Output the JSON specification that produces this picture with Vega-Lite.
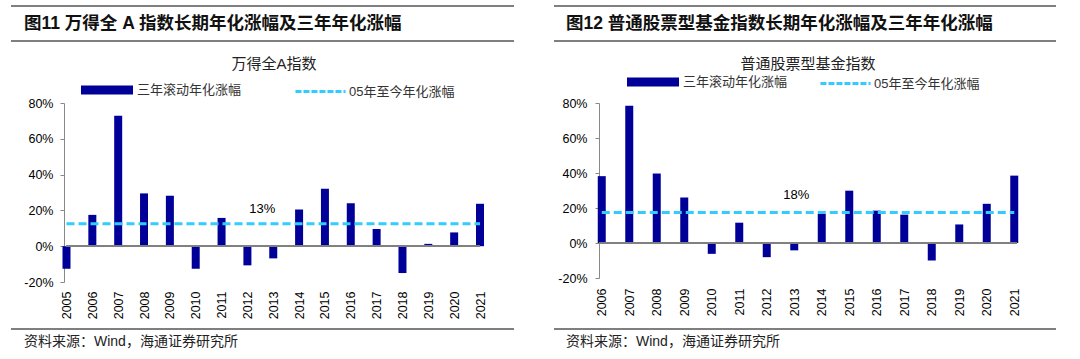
{
  "$schema": "https://vega.github.io/schema/vega-lite/v6.json",
  "background": "white",
  "padding": {"left": 10, "top": 5, "right": 0, "bottom": 0},
  "spacing": 9,
  "config": {
    "view": {"stroke": null},
    "font": "Liberation Sans, Noto Sans CJK SC, sans-serif",
    "title": {"font": "Liberation Sans, Noto Sans CJK SC, sans-serif"},
    "legend": {"labelFont": "Liberation Sans, Noto Sans CJK SC, sans-serif"},
    "axis": {"labelOverlap": false}
  },
  "vconcat": [
    {
      "spacing": 38,
      "hconcat": [
        {
          "width": 503,
          "height": 35,
          "data": {"values": [{"t": "图11 万得全 A 指数长期年化涨幅及三年年化涨幅"}]},
          "layer": [
            {"mark": {"type": "rule", "stroke": "#555555", "strokeWidth": 1.5}, "encoding": {"y": {"datum": 1, "scale": {"domain": [0, 1]}, "axis": null}}},
            {"mark": {"type": "rule", "stroke": "#555555", "strokeWidth": 1.5}, "encoding": {"y": {"datum": 0, "scale": {"domain": [0, 1]}, "axis": null}}},
            {"mark": {"type": "text", "align": "left", "baseline": "middle", "fontSize": 17.5, "fontWeight": "bold", "dx": 13, "color": "#111111"},
             "encoding": {"x": {"datum": 0, "scale": {"domain": [0, 1]}, "axis": {"title": " ", "labels": false, "ticks": false, "domain": false, "grid": false, "titleFontSize": 4, "titlePadding": 2}}, "y": {"datum": 0.5, "scale": {"domain": [0, 1]}, "axis": null}, "text": {"field": "t"}}}
          ]
        },
        {
          "width": 502,
          "height": 35,
          "data": {"values": [{"t": "图12 普通股票型基金指数长期年化涨幅及三年年化涨幅"}]},
          "layer": [
            {"mark": {"type": "rule", "stroke": "#555555", "strokeWidth": 1.5}, "encoding": {"y": {"datum": 1, "scale": {"domain": [0, 1]}, "axis": null}}},
            {"mark": {"type": "rule", "stroke": "#555555", "strokeWidth": 1.5}, "encoding": {"y": {"datum": 0, "scale": {"domain": [0, 1]}, "axis": null}}},
            {"mark": {"type": "text", "align": "left", "baseline": "middle", "fontSize": 17.5, "fontWeight": "bold", "dx": 12, "color": "#111111"},
             "encoding": {"x": {"datum": 0, "scale": {"domain": [0, 1]}, "axis": null}, "y": {"datum": 0.5, "scale": {"domain": [0, 1]}, "axis": null}, "text": {"field": "t"}}}
          ]
        }
      ]
    },
    {
      "spacing": 70,
      "hconcat": [
        {
          "width": 472,
          "height": 179,
          "title": {"text": "万得全A指数", "fontSize": 15, "fontWeight": "normal", "anchor": "middle", "frame": "group", "dx": 27, "color": "#222222", "offset": 12},
          "data": {"values": [
            {"year": "2005", "v": -12.6, "avg": 12.6},
            {"year": "2006", "v": 17.5, "avg": 12.6},
            {"year": "2007", "v": 72.9, "avg": 12.6},
            {"year": "2008", "v": 29.5, "avg": 12.6},
            {"year": "2009", "v": 28.2, "avg": 12.6},
            {"year": "2010", "v": -12.6, "avg": 12.6},
            {"year": "2011", "v": 15.8, "avg": 12.6},
            {"year": "2012", "v": -10.7, "avg": 12.6},
            {"year": "2013", "v": -6.8, "avg": 12.6},
            {"year": "2014", "v": 20.5, "avg": 12.6},
            {"year": "2015", "v": 32.1, "avg": 12.6},
            {"year": "2016", "v": 24.0, "avg": 12.6},
            {"year": "2017", "v": 9.6, "avg": 12.6},
            {"year": "2018", "v": -15.0, "avg": 12.6},
            {"year": "2019", "v": 1.3, "avg": 12.6},
            {"year": "2020", "v": 7.7, "avg": 12.6},
            {"year": "2021", "v": 23.7, "avg": 12.6}
          ]},
          "resolve": {"scale": {"color": "independent"}},
          "layer": [
            {
              "mark": {"type": "bar", "size": 8},
              "encoding": {
                "x": {"field": "year", "type": "ordinal", "scale": {"type": "point", "padding": 0, "range": [55.5, 469]},
                      "axis": {"title": null, "labelAngle": -90, "domain": false, "ticks": false, "labelPadding": 9, "labelFontSize": 12.5, "labelColor": "#000000", "labelOverlap": false}},
                "y": {"field": "v", "type": "quantitative", "scale": {"domain": [-20, 80], "nice": false},
                      "axis": {"values": [-20, 0, 20, 40, 60, 80], "tickCount": 12, "offset": -53, "labelExpr": "datum.value + '%'", "labelOverlap": false, "grid": false, "domainColor": "#888888", "tickColor": "#888888", "tickSize": 4, "labelPadding": 7, "labelFontSize": 12.5, "labelColor": "#000000", "title": null}},
                "color": {"datum": "三年滚动年化涨幅", "scale": {"range": ["#000099"]},
                          "legend": {"orient": "none", "legendX": 89.5, "legendY": -19.5, "title": null, "padding": 0, "symbolType": "M-4,-0.7H4V0.7H-4Z", "symbolSize": 169, "symbolStrokeWidth": 0, "symbolOpacity": 1, "labelFontSize": 13, "labelColor": "#333333", "labelOffset": 23.5}}
              }
            },
            {"mark": {"type": "rule", "color": "#808080", "strokeWidth": 1},
             "encoding": {"x": {"datum": "2005"}, "x2": {"datum": "2021"}, "y": {"datum": 0}}},
            {
              "mark": {"type": "line", "strokeWidth": 3, "strokeDash": [8, 4]},
              "encoding": {
                "x": {"field": "year", "type": "ordinal"},
                "y": {"field": "avg", "type": "quantitative"},
                "color": {"datum": "05年至今年化涨幅", "scale": {"range": ["#33CCFF"]},
                          "legend": {"orient": "none", "legendX": 301.5, "legendY": -19.5, "title": null, "padding": 0, "symbolType": "M-3.85,0H3.85", "symbolSize": 169, "symbolStrokeWidth": 3, "symbolDash": [6, 2], "labelFontSize": 13, "labelColor": "#333333", "labelOffset": 20.5}}
              }
            },
            {
              "data": {"values": [{"year": "2013", "avg": 12.6, "label": "13%"}]},
              "mark": {"type": "text", "fontSize": 13, "dy": -15, "dx": -11, "color": "#000000"},
              "encoding": {
                "x": {"field": "year", "type": "ordinal"},
                "y": {"field": "avg", "type": "quantitative"},
                "text": {"field": "label"}
              }
            }
          ]
        },
        {
          "width": 418,
          "height": 175,
          "title": {"text": "普通股票型基金指数", "fontSize": 15, "fontWeight": "normal", "anchor": "middle", "color": "#222222", "offset": 4},
          "data": {"values": [
            {"year": "2006", "v": 38.2, "avg": 17.5},
            {"year": "2007", "v": 78.4, "avg": 17.5},
            {"year": "2008", "v": 39.7, "avg": 17.5},
            {"year": "2009", "v": 26.0, "avg": 17.5},
            {"year": "2010", "v": -6.2, "avg": 17.5},
            {"year": "2011", "v": 11.6, "avg": 17.5},
            {"year": "2012", "v": -8.1, "avg": 17.5},
            {"year": "2013", "v": -4.2, "avg": 17.5},
            {"year": "2014", "v": 16.6, "avg": 17.5},
            {"year": "2015", "v": 29.9, "avg": 17.5},
            {"year": "2016", "v": 18.5, "avg": 17.5},
            {"year": "2017", "v": 16.2, "avg": 17.5},
            {"year": "2018", "v": -10.0, "avg": 17.5},
            {"year": "2019", "v": 10.6, "avg": 17.5},
            {"year": "2020", "v": 22.4, "avg": 17.5},
            {"year": "2021", "v": 38.5, "avg": 17.5}
          ]},
          "resolve": {"scale": {"color": "independent"}},
          "layer": [
            {
              "mark": {"type": "bar", "size": 8},
              "encoding": {
                "x": {"field": "year", "type": "ordinal", "scale": {"type": "point", "padding": 0.1},
                      "axis": {"title": null, "labelAngle": -90, "domain": false, "ticks": false, "labelPadding": 10, "labelFontSize": 12.5, "labelColor": "#000000", "labelOverlap": false}},
                "y": {"field": "v", "type": "quantitative", "scale": {"domain": [-20, 80], "nice": false},
                      "axis": {"values": [-20, 0, 20, 40, 60, 80], "tickCount": 12, "labelExpr": "datum.value + '%'", "labelOverlap": false, "grid": false, "domainColor": "#888888", "tickColor": "#888888", "tickSize": 4, "labelPadding": 8, "labelFontSize": 12.5, "labelColor": "#000000", "title": null}},
                "color": {"datum": "三年滚动年化涨幅", "scale": {"range": ["#000099"]},
                          "legend": {"orient": "none", "legendX": 47.5, "legendY": -27.5, "title": null, "padding": 0, "symbolType": "M-4,-0.7H4V0.7H-4Z", "symbolSize": 169, "symbolStrokeWidth": 0, "symbolOpacity": 1, "labelFontSize": 13, "labelColor": "#333333", "labelOffset": 23.5}}
              }
            },
            {"mark": {"type": "rule", "color": "#808080", "strokeWidth": 1}, "encoding": {"y": {"datum": 0}}},
            {
              "mark": {"type": "line", "strokeWidth": 3, "strokeDash": [8, 4]},
              "encoding": {
                "x": {"field": "year", "type": "ordinal"},
                "y": {"field": "avg", "type": "quantitative"},
                "color": {"datum": "05年至今年化涨幅", "scale": {"range": ["#33CCFF"]},
                          "legend": {"orient": "none", "legendX": 238.5, "legendY": -27.5, "title": null, "padding": 0, "symbolType": "M-3.85,0H3.85", "symbolSize": 169, "symbolStrokeWidth": 3, "symbolDash": [6, 2], "labelFontSize": 13, "labelColor": "#333333", "labelOffset": 20.5}}
              }
            },
            {
              "data": {"values": [{"year": "2013", "avg": 17.5, "label": "18%"}]},
              "mark": {"type": "text", "fontSize": 13, "dy": -17, "dx": 2, "color": "#000000"},
              "encoding": {
                "x": {"field": "year", "type": "ordinal"},
                "y": {"field": "avg", "type": "quantitative"},
                "text": {"field": "label"}
              }
            }
          ]
        }
      ]
    },
    {
      "spacing": 38,
      "hconcat": [
        {
          "width": 503,
          "height": 26,
          "data": {"values": [{"t": "资料来源：Wind，海通证券研究所"}]},
          "layer": [
            {"mark": {"type": "rule", "stroke": "#555555", "strokeWidth": 1.5}, "encoding": {"y": {"datum": 1, "scale": {"domain": [0, 1]}, "axis": null}}},
            {"mark": {"type": "text", "align": "left", "baseline": "middle", "fontSize": 14, "dx": 13, "color": "#222222"},
             "encoding": {"x": {"datum": 0, "scale": {"domain": [0, 1]}, "axis": null}, "y": {"datum": 0.5, "scale": {"domain": [0, 1]}, "axis": null}, "text": {"field": "t"}}}
          ]
        },
        {
          "width": 502,
          "height": 26,
          "data": {"values": [{"t": "资料来源：Wind，海通证券研究所"}]},
          "layer": [
            {"mark": {"type": "rule", "stroke": "#555555", "strokeWidth": 1.5}, "encoding": {"y": {"datum": 1, "scale": {"domain": [0, 1]}, "axis": null}}},
            {"mark": {"type": "text", "align": "left", "baseline": "middle", "fontSize": 14, "dx": 12, "color": "#222222"},
             "encoding": {"x": {"datum": 0, "scale": {"domain": [0, 1]}, "axis": null}, "y": {"datum": 0.5, "scale": {"domain": [0, 1]}, "axis": null}, "text": {"field": "t"}}}
          ]
        }
      ]
    }
  ]
}
